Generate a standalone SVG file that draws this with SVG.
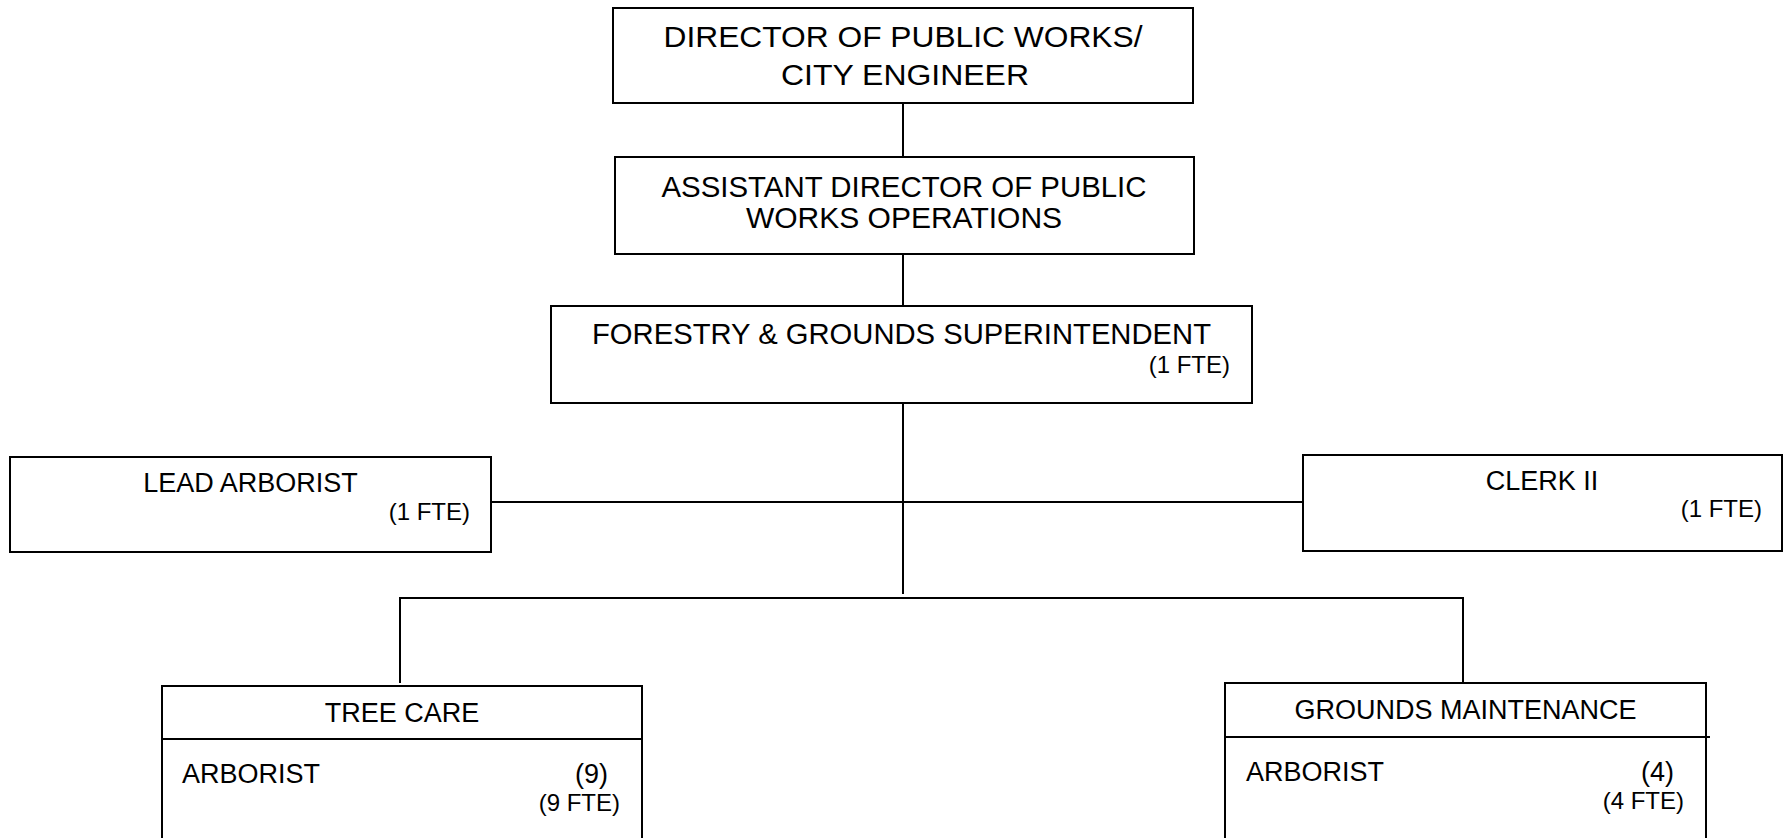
<svg xmlns="http://www.w3.org/2000/svg" width="1783" height="838" viewBox="0 0 1783 838">
<style>
.box{fill:#fff;stroke:#000;stroke-width:2}
.ln{fill:none;stroke:#000;stroke-width:2}
text{font-family:"Liberation Sans",Arial,sans-serif;fill:#000}
.t1{font-size:30px}
.t2{font-size:27px}
.t3{font-size:24px}
.c{text-anchor:middle}
.e{text-anchor:end}
</style>
<rect width="1783" height="838" fill="#fff"/>
<g id="connectors">
<line class="ln" x1="903" y1="103" x2="903" y2="157"/>
<line class="ln" x1="903" y1="254" x2="903" y2="306"/>
<line class="ln" x1="903" y1="403" x2="903" y2="594"/>
<line class="ln" x1="491" y1="502" x2="1303" y2="502"/>
<polyline class="ln" points="400,683 400,598 1463,598 1463,683"/>
</g>
<g id="director">
<rect class="box" x="613" y="8" width="580" height="95"/>
<text class="t1 c" x="903" y="47" textLength="479" lengthAdjust="spacingAndGlyphs">DIRECTOR OF PUBLIC WORKS/</text>
<text class="t1 c" x="905" y="85" textLength="248" lengthAdjust="spacingAndGlyphs">CITY ENGINEER</text>
</g>
<g id="assistant">
<rect class="box" x="615" y="157" width="579" height="97"/>
<text class="t1 c" x="904" y="197" textLength="485" lengthAdjust="spacingAndGlyphs">ASSISTANT DIRECTOR OF PUBLIC</text>
<text class="t1 c" x="904" y="228">WORKS OPERATIONS</text>
</g>
<g id="superintendent">
<rect class="box" x="551" y="306" width="701" height="97"/>
<text class="t1 c" x="901.5" y="344" textLength="619" lengthAdjust="spacingAndGlyphs">FORESTRY &amp; GROUNDS SUPERINTENDENT</text>
<text class="t3 e" x="1230" y="373">(1 FTE)</text>
</g>
<g id="lead-arborist">
<rect class="box" x="10" y="457" width="481" height="95"/>
<text class="t2 c" x="250.5" y="492">LEAD ARBORIST</text>
<text class="t3 e" x="470" y="520">(1 FTE)</text>
</g>
<g id="clerk">
<rect class="box" x="1303" y="455" width="479" height="96"/>
<text class="t2 c" x="1542" y="490">CLERK II</text>
<text class="t3 e" x="1762" y="517">(1 FTE)</text>
</g>
<g id="tree-care">
<rect class="box" x="162" y="686" width="480" height="160"/>
<line class="ln" x1="162" y1="739" x2="642" y2="739"/>
<text class="t2 c" x="402" y="722">TREE CARE</text>
<text class="t2" x="182" y="783">ARBORIST</text>
<text class="t2 e" x="608" y="783">(9)</text>
<text class="t3 e" x="620" y="811">(9 FTE)</text>
</g>
<g id="grounds-maintenance">
<rect class="box" x="1225" y="683" width="481" height="163"/>
<line class="ln" x1="1225" y1="737" x2="1710" y2="737"/>
<text class="t2 c" x="1465.5" y="719">GROUNDS MAINTENANCE</text>
<text class="t2" x="1246" y="781">ARBORIST</text>
<text class="t2 e" x="1674" y="781">(4)</text>
<text class="t3 e" x="1684" y="809">(4 FTE)</text>
</g>
</svg>
